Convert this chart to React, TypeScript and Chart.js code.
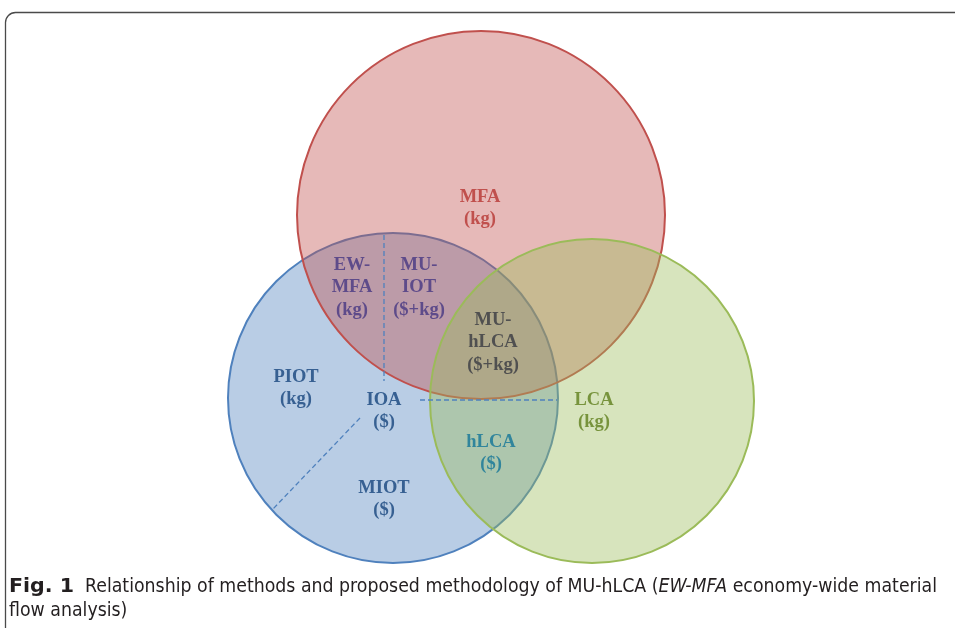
import React, { useEffect, useRef } from "react";
import { Chart, registerables } from "chart.js";

Chart.register(...registerables);

// Circles of the Venn diagram (data units = pixels of the 955x628 view)
const circleNames = ["LCA", "MFA", "IOA"];
const circleCx = [592, 481, 393];
const circleCy = [401, 215, 398];
const circleR = [162, 184, 165];
const circleFill = ["rgba(155,187,89,0.4)", "rgba(192,80,77,0.4)", "rgba(79,129,189,0.4)"];
const circleStroke = ["#9BBB59", "#C0504D", "#4F81BD"];

// Region labels
const regionLines = [
  ["MFA", "(kg)"],
  ["EW-", "MFA", "(kg)"],
  ["MU-", "IOT", "($+kg)"],
  ["MU-", "hLCA", "($+kg)"],
  ["PIOT", "(kg)"],
  ["IOA", "($)"],
  ["hLCA", "($)"],
  ["MIOT", "($)"],
  ["LCA", "(kg)"],
];
const regionX = [480, 352, 419, 493, 296, 384, 491, 384, 594];
const regionY = [197, 265, 265, 320, 377, 400, 442, 488, 400];
const regionColor = ["#C0504D", "#5E4B8A", "#5E4B8A", "#505050", "#376092", "#376092", "#31859C", "#376092", "#77933C"];

// Dashed dividers inside the IOA circle
const dividerX = [[384, 384], [420, 557], [360, 272]];
const dividerY = [[235, 381], [400, 400], [418, 510]];

const captionBold = "Fig. 1";
const captionA = "Relationship of methods and proposed methodology of MU-hLCA (";
const captionItalic = "EW-MFA";
const captionB = " economy-wide material";
const captionLine2 = "flow analysis)";

export default function App() {
  const ref = useRef<HTMLCanvasElement | null>(null);

  useEffect(() => {
    const canvas = ref.current;
    if (!canvas) return;

    const framePlugin = {
      id: "frame",
      beforeDraw(chart: any) {
        const ctx = chart.ctx;
        ctx.save();
        ctx.fillStyle = "#ffffff";
        ctx.fillRect(0, 0, chart.width, chart.height);
        ctx.strokeStyle = "#4a4a4a";
        ctx.lineWidth = 1.3;
        const x = 5.5, y = 12.5, r = 10;
        ctx.beginPath();
        ctx.moveTo(x, chart.height + 5);
        ctx.lineTo(x, y + r);
        ctx.arcTo(x, y, x + r, y, r);
        ctx.lineTo(chart.width + 5, y);
        ctx.stroke();
        ctx.restore();
      },
    };

    const labelPlugin = {
      id: "labels",
      afterDatasetsDraw(chart: any) {
        const ctx = chart.ctx;
        const xs = chart.scales.x;
        const ys = chart.scales.y;
        ctx.save();
        ctx.font = 'bold 18.5px "Liberation Serif", "Times New Roman", serif';
        ctx.textAlign = "center";
        ctx.textBaseline = "middle";
        regionLines.forEach((lines, i) => {
          ctx.fillStyle = regionColor[i];
          lines.forEach((t, j) => {
            ctx.fillText(t, xs.getPixelForValue(regionX[i]), ys.getPixelForValue(regionY[i] + j * 22.5));
          });
        });
        ctx.restore();
      },
      afterDraw(chart: any) {
        const ctx = chart.ctx;
        ctx.save();
        ctx.fillStyle = "#231F20";
        ctx.textBaseline = "middle";
        ctx.textAlign = "left";
        const fam = '"Liberation Sans Narrow", "DejaVu Sans Condensed", "Open Sans", sans-serif';
        const fs = 19;
        const y1 = 587, y2 = 611;
        ctx.font = `bold ${fs}px ${fam}`;
        const wb = ctx.measureText(captionBold).width;
        const sb = 65 / wb;
        ctx.setTransform(sb, 0, 0, 1, 9, 0);
        ctx.fillText(captionBold, 0, y1);
        ctx.setTransform(1, 0, 0, 1, 0, 0);
        ctx.font = `${fs}px ${fam}`;
        const wa = ctx.measureText(captionA).width;
        const wbb = ctx.measureText(captionB).width;
        ctx.font = `italic ${fs}px ${fam}`;
        const wi = ctx.measureText(captionItalic).width;
        const s = (937 - 85) / (wa + wi + wbb);
        ctx.setTransform(s, 0, 0, 1, 85, 0);
        ctx.font = `${fs}px ${fam}`;
        ctx.fillText(captionA, 0, y1);
        ctx.font = `italic ${fs}px ${fam}`;
        ctx.fillText(captionItalic, wa, y1);
        ctx.font = `${fs}px ${fam}`;
        ctx.fillText(captionB, wa + wi, y1);
        ctx.setTransform(s, 0, 0, 1, 9, 0);
        ctx.fillText(captionLine2, 0, y2);
        ctx.restore();
      },
    };

    const circleSets = circleNames.map((name, i) => ({
      type: "bubble" as const,
      label: name,
      data: [{ x: circleCx[i], y: circleCy[i], r: circleR[i] }],
      backgroundColor: circleFill[i],
      borderColor: circleStroke[i],
      borderWidth: 2,
      hoverRadius: 0,
      clip: false,
      order: i + 1,
    }));

    const dividerSets = dividerX.map((xs, i) => ({
      type: "line" as const,
      label: "divider" + i,
      data: xs.map((x, j) => ({ x, y: dividerY[i][j] })),
      borderColor: "#4F81BD",
      borderWidth: 1.3,
      borderDash: [5, 3],
      pointRadius: 0,
      fill: false,
      tension: 0,
      clip: false,
      order: 0,
    }));

    const chart = new Chart(canvas, {
      type: "bubble",
      data: { datasets: [...circleSets, ...dividerSets] as any },
      options: {
        animation: false,
        responsive: false,
        events: [],
        layout: { padding: 0, autoPadding: false },
        plugins: { legend: { display: false }, tooltip: { enabled: false } },
        scales: {
          x: { type: "linear", min: 0, max: 955, display: false, grace: 0 },
          y: { type: "linear", min: 0, max: 628, reverse: true, display: false, grace: 0 },
        },
      } as any,
      plugins: [framePlugin, labelPlugin],
    });

    return () => chart.destroy();
  }, []);

  return (
    <div style={{ position: "fixed", left: 0, top: 0, width: 955, height: 628, background: "#fff" }}>
      <canvas ref={ref} width={955} height={628} style={{ display: "block" }} />
    </div>
  );
}
